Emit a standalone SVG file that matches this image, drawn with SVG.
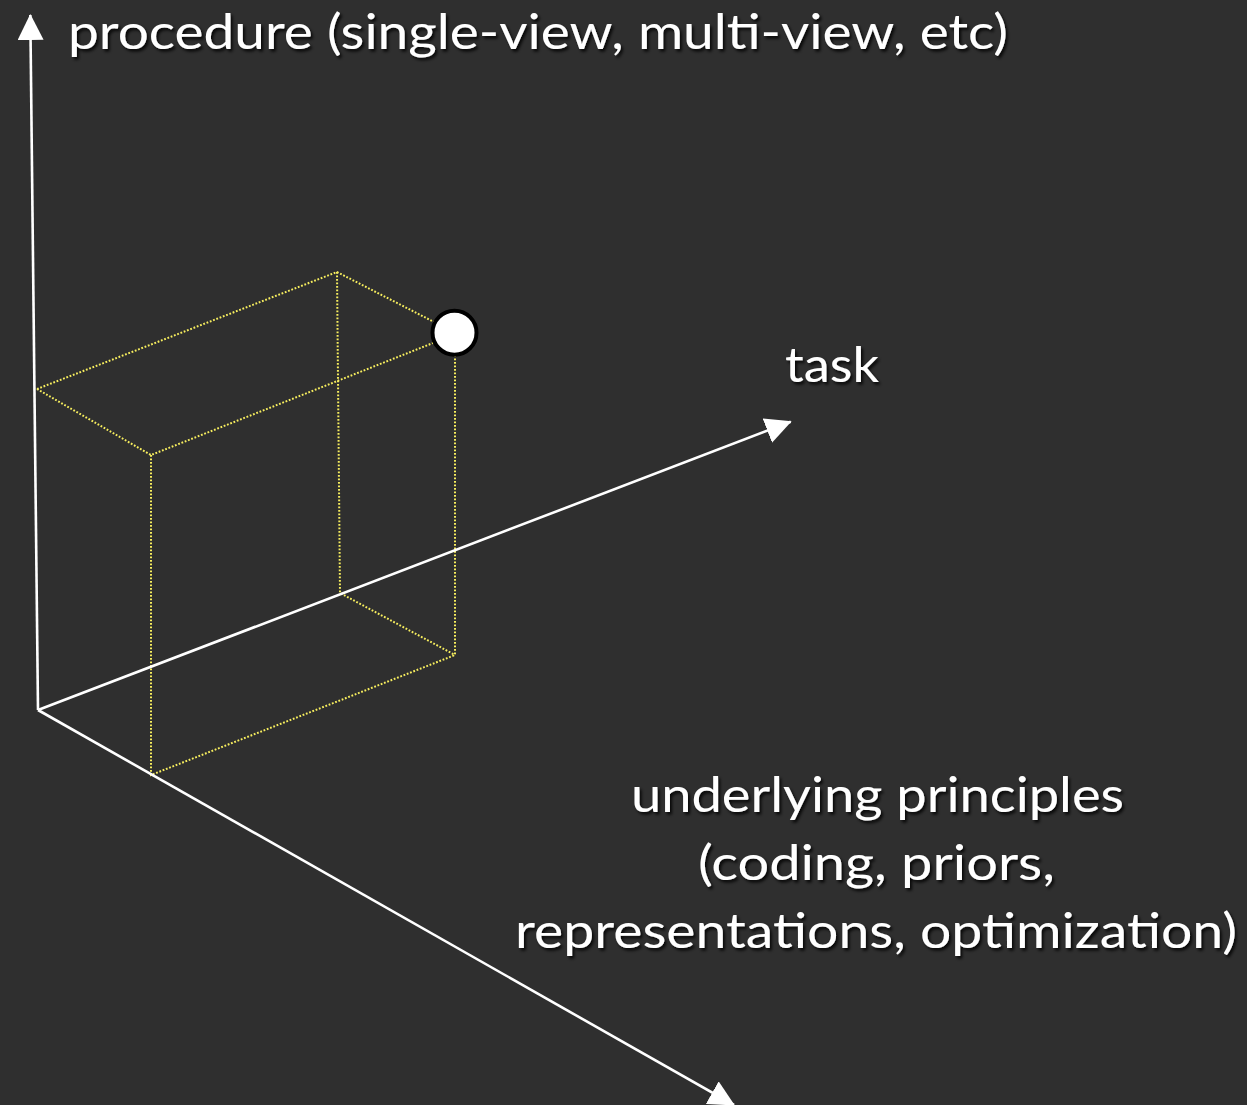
<svg xmlns="http://www.w3.org/2000/svg" width="1247" height="1105" viewBox="0 0 1247 1105">
  <defs>
    <marker id="ah" markerUnits="userSpaceOnUse" markerWidth="26" markerHeight="26" refX="25" refY="13" orient="auto">
      <path d="M0,0 L26,13 L0,26 Z" fill="#ffffff"/>
    </marker>
    <filter id="sh" x="-10%" y="-30%" width="120%" height="160%">
      <feDropShadow dx="2" dy="2.5" stdDeviation="1.5" flood-color="#000" flood-opacity="0.85"/>
    </filter>
  </defs>
  <style>
    .lbl { font-family: "Lato", "Open Sans", "Liberation Sans", sans-serif; font-size: 48px; fill: #ffffff; filter: url(#sh); }
    .axis { stroke: #ffffff; stroke-width: 2.6; fill: none; marker-end: url(#ah); }
    .dot { stroke: #f7ee5e; stroke-width: 2; stroke-dasharray: 1.8 1.7; fill: none; }
  </style>
  <rect width="1247" height="1105" fill="#2f2f2f"/>

  <g id="box">
    <path class="dot" d="M37,389 L337,272 L434,322"/>
    <path class="dot" d="M37,389 L151,455 L433,343"/>
    <path class="dot" d="M337,272 L340,593 L455,655"/>
    <path class="dot" d="M151,455 L151,775 L455,655 L455,356"/>
  </g>

  <g id="connectors">
    <line class="axis" x1="38" y1="710" x2="30.3" y2="15"/>
    <line class="axis" x1="38" y1="710" x2="790.7" y2="421.7"/>
    <line class="axis" x1="38" y1="710" x2="734" y2="1105"/>
  </g>

  <g id="point">
    <circle cx="454.5" cy="332.7" r="22" fill="#ffffff" stroke="#000000" stroke-width="4"/>
  </g>

  <g id="label-procedure">
    <text class="lbl" x="68" y="49" textLength="940" lengthAdjust="spacingAndGlyphs">procedure (single-view, multi-view, etc)</text>
  </g>
  <g id="label-task">
    <text class="lbl" x="785" y="382" textLength="94" lengthAdjust="spacingAndGlyphs">task</text>
  </g>
  <g id="label-principles">
    <text class="lbl" x="631" y="812" textLength="493" lengthAdjust="spacingAndGlyphs">underlying principles</text>
    <text class="lbl" x="698" y="880" textLength="357" lengthAdjust="spacingAndGlyphs">(coding, priors,</text>
    <text class="lbl" x="515" y="948" textLength="722" lengthAdjust="spacingAndGlyphs">representations, optimization)</text>
  </g>
</svg>
